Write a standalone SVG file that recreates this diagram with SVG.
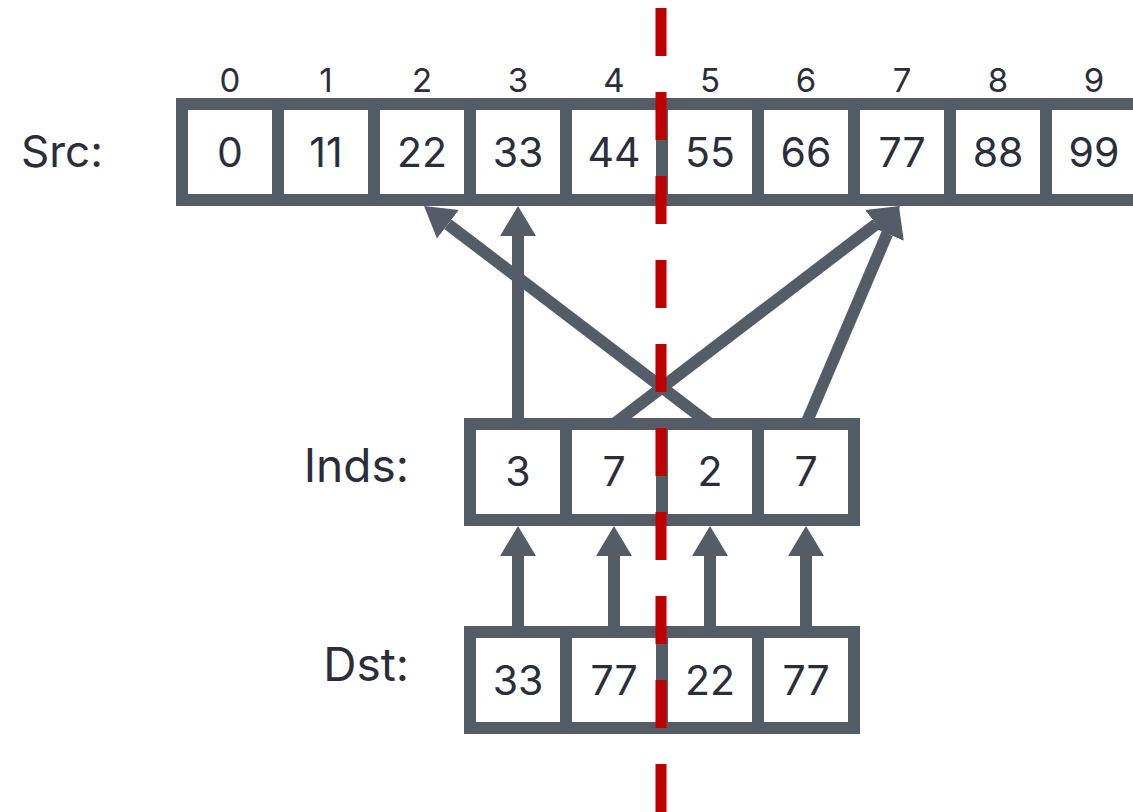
<svg xmlns="http://www.w3.org/2000/svg" width="1133" height="812" viewBox="0 0 1133 812">
<style>
.box{fill:#ffffff;stroke:#545c67;stroke-width:12}
.div{stroke:#545c67;stroke-width:12}
.conn{stroke:#545c67;stroke-width:12;fill:none}
.val{font-family:Inter,"Liberation Sans",sans-serif;font-size:41px;fill:#2a2e3a;text-anchor:middle}
.idx{font-family:Inter,"Liberation Sans",sans-serif;font-size:33px;fill:#2a2e3a;text-anchor:middle}
.lbl{font-family:Inter,"Liberation Sans",sans-serif;font-size:46px;fill:#2a2e3a}
.split{stroke:#c00000;stroke-width:11;stroke-dasharray:48 36}
</style>
<defs>
<marker id="ah" markerUnits="userSpaceOnUse" markerWidth="32" markerHeight="38" viewBox="0 -19 32 38" refX="0" refY="0" orient="auto">
<path d="M0,-18 L30,0 L0,18 z" fill="#545c67"/>
</marker>
</defs>
<g id="connectors">
<line class="conn" x1="518" y1="424" x2="518" y2="236" marker-end="url(#ah)"/>
<line class="conn" x1="710" y1="424" x2="447.9" y2="224.2" marker-end="url(#ah)"/>
<line class="conn" x1="614" y1="424" x2="876.1" y2="224.2" marker-end="url(#ah)"/>
<line class="conn" x1="806" y1="424" x2="887.2" y2="233.6" marker-end="url(#ah)"/>
<line class="conn" x1="518" y1="632" x2="518" y2="556" marker-end="url(#ah)"/>
<line class="conn" x1="614" y1="632" x2="614" y2="556" marker-end="url(#ah)"/>
<line class="conn" x1="710" y1="632" x2="710" y2="556" marker-end="url(#ah)"/>
<line class="conn" x1="806" y1="632" x2="806" y2="556" marker-end="url(#ah)"/>
</g>
<g id="src">
<text class="lbl" x="21" y="167" style="font-size:44px">Src:</text>
<rect class="box" x="182" y="104" width="1000" height="96"/>
<path class="div" d="M278,104V200M374,104V200M470,104V200M566,104V200M662,104V200M758,104V200M854,104V200M950,104V200M1046,104V200"/>
<g class="idx">
<text x="230" y="92">0</text><text x="326" y="92">1</text><text x="422" y="92">2</text><text x="518" y="92">3</text><text x="614" y="92">4</text><text x="710" y="92">5</text><text x="806" y="92">6</text><text x="902" y="92">7</text><text x="998" y="92">8</text><text x="1094" y="92">9</text>
</g>
<g class="val">
<text x="230" y="167">0</text><text x="326" y="167">11</text><text x="422" y="167">22</text><text x="518" y="167">33</text><text x="614" y="167">44</text><text x="710" y="167">55</text><text x="806" y="167">66</text><text x="902" y="167">77</text><text x="998" y="167">88</text><text x="1094" y="167">99</text>
</g>
</g>
<g id="inds">
<text class="lbl" x="409" y="482" text-anchor="end">Inds:</text>
<rect class="box" x="470" y="424" width="384" height="96"/>
<path class="div" d="M566,424V520M662,424V520M758,424V520"/>
<g class="val">
<text x="518" y="486">3</text><text x="614" y="486">7</text><text x="710" y="486">2</text><text x="806" y="486">7</text>
</g>
</g>
<g id="dst">
<text class="lbl" x="409" y="681" text-anchor="end">Dst:</text>
<rect class="box" x="470" y="632" width="384" height="96"/>
<path class="div" d="M566,632V728M662,632V728M758,632V728"/>
<g class="val">
<text x="518" y="695">33</text><text x="614" y="695">77</text><text x="710" y="695">22</text><text x="806" y="695">77</text>
</g>
</g>
<g id="split">
<line class="split" x1="661" y1="8" x2="661" y2="812"/>
</g>
</svg>
